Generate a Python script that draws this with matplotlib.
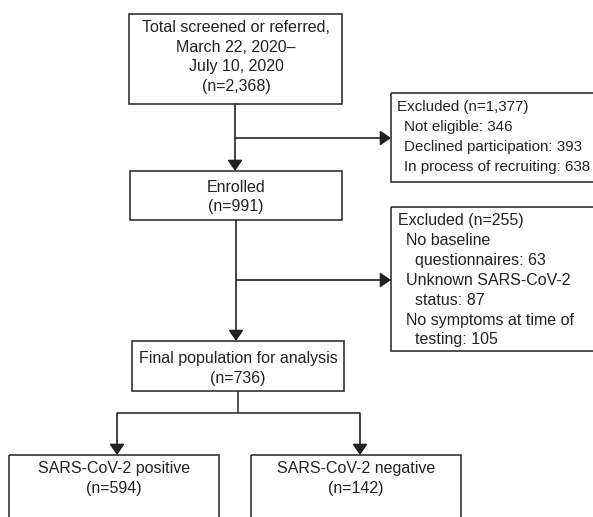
import matplotlib
matplotlib.use("Agg")
import matplotlib.pyplot as plt
from matplotlib.patches import Rectangle

# --- Flowchart content ---
screened_lines = ["Total screened or referred,", "March 22, 2020\u2013", "July 10, 2020", "(n=2,368)"]
enrolled_lines = ["Enrolled", "(n=991)"]
final_lines = ["Final population for analysis", "(n=736)"]
positive_lines = ["SARS-CoV-2 positive", "(n=594)"]
negative_lines = ["SARS-CoV-2 negative", "(n=142)"]

excluded1_lines = [("Excluded (n=1,377)", 0), ("Not eligible: 346", 1),
                   ("Declined participation: 393", 1), ("In process of recruiting: 638", 1)]
excluded2_lines = [("Excluded (n=255)", 0), ("No baseline", 1), ("questionnaires: 63", 2),
                   ("Unknown SARS-CoV-2", 1), ("status: 87", 2),
                   ("No symptoms at time of", 1), ("testing: 105", 2)]

W, H = 593, 517
LC = "#333333"
LW = 1.2
FS = 11.5
plt.rcParams["font.family"] = ["Liberation Sans", "DejaVu Sans"]

fig = plt.figure(figsize=(W / 100, H / 100), dpi=100)
ax = fig.add_axes([0, 0, 1, 1])
ax.set_xlim(0, W)
ax.set_ylim(H, 0)
ax.axis("off")


def box(x0, y0, x1, y1):
    ax.add_patch(Rectangle((x0, y0), x1 - x0, y1 - y0, fill=False, ec=LC, lw=LW))


def center_text(lines, xc, y_first, step=20):
    for i, s in enumerate(lines):
        ax.text(xc, y_first + i * step, s, ha="center", va="center", fontsize=FS, color="#222222")


def left_text(lines, x0, y_first, step=19.8, indent=8.5, fs=FS):
    for i, (s, lvl) in enumerate(lines):
        ax.text(x0 + lvl * indent, y_first + i * step, s, ha="left", va="center", fontsize=fs, color="#222222")


def line(pts):
    xs, ys = zip(*pts)
    ax.plot(xs, ys, color=LC, lw=LW, solid_capstyle="butt")


def arrow(start, tip):
    ax.annotate("", xy=tip, xytext=start,
                arrowprops=dict(arrowstyle="-|>,head_length=0.65,head_width=0.45",
                                mutation_scale=10, color="#222222", lw=LW,
                                shrinkA=0, shrinkB=0))


# main boxes
box(129, 14, 342, 104)
center_text(screened_lines, 236, 27)
box(130, 171, 342, 220)
center_text(enrolled_lines, 236, 187)
box(132, 341, 344, 391)
center_text(final_lines, 238, 358, step=21)
box(9, 455, 219, 540)
center_text(positive_lines, 114, 469)
box(251, 455, 461, 540)
center_text(negative_lines, 356, 469)

# exclusion boxes
box(391, 93, 640, 182)
left_text(excluded1_lines, 397, 107, step=20, indent=7.5, fs=10.9)
box(391, 207, 640, 351)
left_text(excluded2_lines, 398, 221)

# connectors
arrow((235, 104), (235, 171))
arrow((235, 138), (391, 138))
arrow((236, 220), (236, 341))
arrow((236, 280), (391, 280))
line([(238, 391), (238, 413)])
line([(117, 413), (360, 413)])
arrow((117, 413), (117, 455))
arrow((360, 413), (360, 455))

fig.savefig("out.png", dpi=100)
